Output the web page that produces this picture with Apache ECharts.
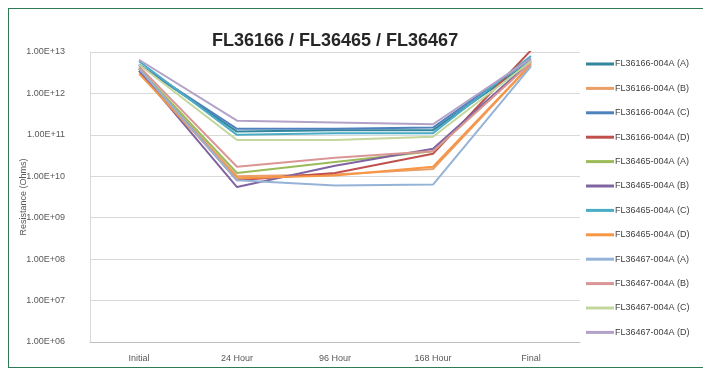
<!DOCTYPE html>
<html>
<head>
<meta charset="utf-8">
<script src="https://cdn.jsdelivr.net/npm/echarts@6/dist/echarts.min.js"></script>
<style>
html,body{margin:0;padding:0;background:#fff;}
#frame{position:absolute;left:8px;top:8px;width:710px;height:360px;border:1.5px solid #2f7a55;box-sizing:border-box;}
#chart{position:absolute;left:0;top:0;width:703px;height:376px;}
</style>
</head>
<body>
<div id="frame"></div>
<div id="chart"></div>
<script>
const categories = ['Initial', '24 Hour', '96 Hour', '168 Hour', 'Final'];
const seriesNames = [
  'FL36166-004A (A)', 'FL36166-004A (B)', 'FL36166-004A (C)', 'FL36166-004A (D)',
  'FL36465-004A (A)', 'FL36465-004A (B)', 'FL36465-004A (C)', 'FL36465-004A (D)',
  'FL36467-004A (A)', 'FL36467-004A (B)', 'FL36467-004A (C)', 'FL36467-004A (D)'
];
const s166A = [5.0e12, 1.2e11, 1.3e11, 1.3e11, 6.0e12];
const s166B = [3.5e12, 1.0e10, 1.1e10, 1.5e10, 5.0e12];
const s166C = [5.0e12, 1.4e11, 1.4e11, 1.5e11, 7.0e12];
const s166D = [4.0e12, 8.0e9, 1.2e10, 3.5e10, 1.1e13];
const s465A = [4.0e12, 1.2e10, 2.2e10, 4.0e10, 6.0e12];
const s465B = [3.5e12, 5.5e9, 1.8e10, 4.6e10, 6.0e12];
const s465C = [6.0e12, 1.0e11, 1.1e11, 1.1e11, 8.0e12];
const s465D = [3.0e12, 9.0e9, 1.05e10, 1.7e10, 5.0e12];
const s467A = [4.0e12, 8.0e9, 6.0e9, 6.3e9, 4.5e12];
const s467B = [4.5e12, 1.7e10, 2.8e10, 4.0e10, 5.5e12];
const s467C = [5.0e12, 7.5e10, 7.5e10, 9.0e10, 6.0e12];
const s467D = [6.5e12, 2.2e11, 2.0e11, 1.8e11, 7.0e12];
const allValues = [s166A, s166B, s166C, s166D, s465A, s465B, s465C, s465D, s467A, s467B, s467C, s467D];
const colors = ['#31859C', '#E99F67', '#4F81BD', '#C0504D', '#9BBB59', '#8064A2',
                '#4BACC6', '#F79646', '#95B3D7', '#D99694', '#C3D69B', '#B3A2C7'];

function fmtExp(v) {
  const e = Math.round(Math.log10(v));
  const m = v / Math.pow(10, e);
  const es = (e < 10 ? '0' : '') + e;
  return m.toFixed(2) + 'E+' + es;
}

const FONT = 'Liberation Sans';
const chart = echarts.init(document.getElementById('chart'));
chart.setOption({
  animation: false,
  color: colors,
  title: {
    text: 'FL36166 / FL36465 / FL36467',
    left: 207, top: 27,
    textStyle: { fontFamily: FONT, fontSize: 18, fontWeight: 'bold', color: '#262626' }
  },
  grid: { left: 90, right: 123, top: 52, bottom: 34 },
  legend: {
    orient: 'vertical', left: 581, top: 53,
    icon: 'rect', itemWidth: 28, itemHeight: 3, itemGap: 12.4,
    itemStyle: { borderWidth: 0 },
    textStyle: { fontFamily: FONT, fontSize: 9, color: '#404040', lineHeight: 12, padding: [0, 0, 0, -4] },
    data: seriesNames
  },
  xAxis: {
    type: 'category', data: categories, boundaryGap: true,
    axisLine: { lineStyle: { color: '#BFBFBF', width: 1 } },
    axisTick: { show: false },
    axisLabel: { fontFamily: FONT, fontSize: 9, color: '#595959', margin: 12 }
  },
  yAxis: {
    type: 'log', logBase: 10, min: 1e6, max: 1e13,
    name: 'Resistance (Ohms)', nameLocation: 'middle', nameGap: 62,
    nameMoveOverlap: false,
    nameTextStyle: { fontFamily: FONT, fontSize: 9, color: '#595959' },
    axisLine: { show: true, lineStyle: { color: '#D9D9D9' } },
    axisTick: { show: false },
    splitLine: { lineStyle: { color: '#D9D9D9', width: 1 } },
    axisLabel: { fontFamily: FONT, fontSize: 9, color: '#595959', margin: 25, formatter: fmtExp }
  },
  series: allValues.map((vals, i) => ({
    name: seriesNames[i], type: 'line', data: vals,
    showSymbol: false, symbol: 'none',
    lineStyle: { width: 2, color: colors[i] },
    itemStyle: { color: colors[i] }
  }))
});
</script>
</body>
</html>
